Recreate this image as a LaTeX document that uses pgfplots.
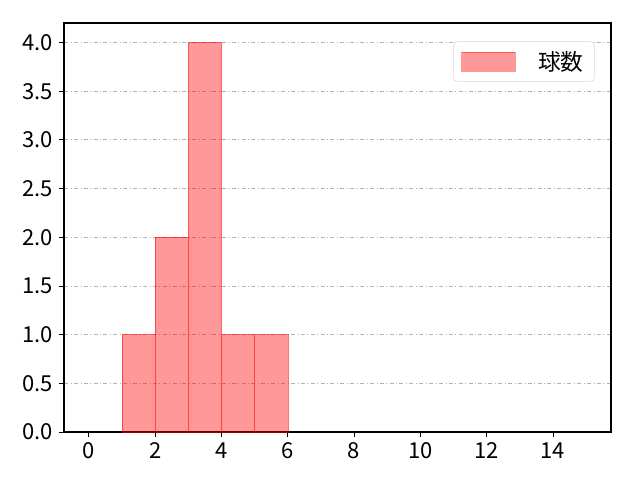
\documentclass[border=0pt]{standalone}
\usepackage{fontspec}
\setmainfont{Noto Sans CJK JP}
\usepackage{pgfplots}
\pgfplotsset{compat=1.18}
\begin{document}
\begin{tikzpicture}
\useasboundingbox (-48pt,-36pt) rectangle (432pt,324pt);
\begin{axis}[
    at={(0,0)}, anchor=south west,
    scale only axis,
    width=410.25pt, height=306.75pt,
    xmin=-0.75, xmax=15.75,
    ymin=0, ymax=4.2,
    xtick={0,2,...,14},
    ytick={0,0.5,...,4},
    yticklabel style={xshift=-1pt, /pgf/number format/.cd, fixed, fixed zerofill, precision=1},
    /pgf/number format/assume math mode=true,
    tick align=outside,
    tick pos=left,
    major tick length=3.6pt,
    tick style={black, line width=0.6pt},
    axis line style={black, line width=0.8pt},
    ymajorgrids,
    grid style={gray!60, dash dot, line width=0.6pt},
    ticklabel style={font=\fontsize{16.5}{19}\selectfont},
    xticklabel style={yshift=-1pt},
    legend style={at={(0.97,0.955)}, anchor=north east, rounded corners=3pt,
        draw=gray!30, font=\fontsize{17}{19}\selectfont,
        inner xsep=6pt, inner ysep=5pt},
    legend cell align=left,
]
\addplot[ybar interval, fill=red, fill opacity=0.4, draw=red, draw opacity=0.55,
    forget plot] coordinates {(1,1) (2,2) (3,4) (4,1) (5,1) (6,1)};
\addlegendimage{legend image code/.code={
    \draw[sharp corners, fill=red, fill opacity=0.4, draw=red, draw opacity=0.4]
        (0pt,-7pt) rectangle (40pt,7pt);}}
\addlegendentry{\hspace{0.9em}球数}
\end{axis}
\end{tikzpicture}
\end{document}
